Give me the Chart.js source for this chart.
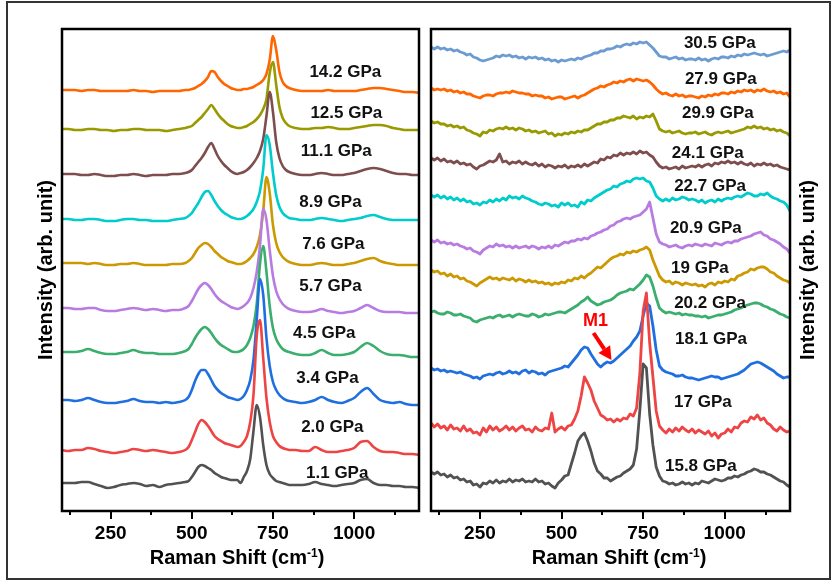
<!DOCTYPE html>
<html><head><meta charset="utf-8">
<script src="https://cdn.jsdelivr.net/npm/chart.js@4.4.0/dist/chart.umd.min.js"></script>
<style>
body{margin:0;background:#fff;width:833px;height:581px;overflow:hidden;position:relative}
#frame{position:absolute;left:6px;top:1px;width:825px;height:579px;border:2px solid #333;box-sizing:border-box}
#wl{position:absolute;left:0;top:0;width:425px;height:581px}
#wr{position:absolute;left:425px;top:0;width:408px;height:581px}
</style></head><body>
<div id="frame"></div>
<div id="wl"><canvas id="cl"></canvas></div>
<div id="wr"><canvas id="cr"></canvas></div>
<script>
// Raman shift grids (cm^-1)
const shiftLP = [100,120,140,160,180,200,220,240,260,280,300,320,340,360,380,400,420,440,460,480,490,500,510,520,530,540,550,560,570,580,590,600,610,620,630,640,650,660,670,680,690,700,710,720,730,740,750,760,770,780,790,800,820,840,860,880,900,920,940,960,980,1000,1020,1040,1060,1080,1100,1120,1140,1160,1180,1200];
const shiftHP = [100,110,120,130,140,150,160,170,180,190,200,210,220,230,240,250,260,270,280,290,300,310,320,330,340,350,360,370,380,390,400,410,420,430,440,450,460,470,480,490,500,510,520,530,540,550,560,570,580,590,600,610,620,630,640,650,660,670,680,690,700,710,720,730,740,750,760,770,780,790,800,810,820,830,840,850,860,870,880,890,900,910,920,930,940,950,960,970,980,990,1000,1010,1020,1030,1040,1050,1060,1070,1080,1090,1100,1110,1120,1130,1140,1150,1160,1170,1180,1190,1200];
const majorTicks = [250,500,750,1000];
const minorTicks = [125,375,625,875,1125];

// Left panel (low pressure), bottom to top; intensities relative to each trace's baseline
const leftLabels = ['1.1 GPa','2.0 GPa','3.4 GPa','4.5 GPa','5.7 GPa','7.6 GPa','8.9 GPa','11.1 GPa','12.5 GPa','14.2 GPa'];
const leftOffsets = [27,60,110,158,202,247,291,336,381,420];
const p1_1 = [0,0,0,1,1,-1,-3,-5,-4,-2,-1,0,-1,-3,-2,-4,-2,-1,0,1,
 2,6,11,16,18,17,15,13,10,8,6,5,4,3,3,3,0,6,12,24,52,78,66,38,18,9,5,2,1,0,-1,-2,
 -2,-2,-1,1,-1,-2,-3,-2,-1,0,3,4,0,-2,-2,-3,-3,-4,-4,-5];
const p2_0 = [0,-1,0,0,2,1,-1,-2,-3,-2,-1,1,0,-1,0,-1,-2,-3,-2,0,
 3,10,18,26,30,28,24,19,14,11,9,7,6,5,4,3,4,8,14,28,55,114,130,92,52,28,14,8,4,2,1,0,
 0,-1,-1,3,0,-2,-2,-1,0,2,8,9,3,-1,-2,-2,-3,-4,-4,-5];
const p3_4 = [0,0,-1,0,2,0,-2,-3,-3,-2,-1,1,-1,-2,-2,-3,-2,-3,-2,0,
 3,10,19,26,30,30,26,20,14,10,7,5,3,2,1,0,1,4,10,20,40,80,121,105,62,34,18,10,5,2,0,-1,
 -2,-3,-2,0,3,0,-2,-3,-1,2,8,12,6,0,-2,-3,-2,-4,-5,-5];
const p4_5 = [0,0,0,1,3,1,-1,-2,-2,-1,0,2,0,-1,-1,-2,-2,-2,-1,1,
 3,8,14,19,23,25,23,19,14,10,7,5,3,1,0,0,1,3,7,14,26,48,88,106,80,46,24,13,7,3,1,0,
 -2,-3,-3,-1,2,-1,-3,-3,-2,0,5,9,6,1,-2,-3,-3,-4,-5,-5];
const p5_7 = [0,0,-1,-1,0,0,-2,-3,-3,-2,-1,0,-1,-2,-1,-2,-3,-2,-2,0,
 2,7,13,19,23,25,23,19,14,10,7,5,3,1,0,-1,0,2,5,10,20,36,62,99,88,58,32,17,9,4,1,-1,
 -3,-4,-4,-3,-1,-3,-4,-5,-4,-3,0,3,0,-3,-4,-4,-4,-5,-5,-5];
const p7_6 = [0,0,0,0,-1,0,-1,-2,-2,-1,-1,0,-1,-2,-2,-2,-2,-1,-1,0,
 2,5,10,15,18,20,19,16,12,9,6,4,2,1,0,-1,-1,0,2,5,9,16,28,52,86,70,38,20,11,6,3,1,
 -1,-2,-2,-1,0,-1,-2,-2,-1,0,2,4,5,2,0,-1,-2,-2,-2,-2];
const p8_9 = [0,0,-1,-1,0,0,-1,-2,-2,-1,0,0,-1,-1,-2,-2,-2,-1,0,1,
 3,6,11,16,22,27,28,24,18,13,9,6,4,2,1,0,0,1,3,6,10,17,28,50,84,74,46,24,12,6,3,1,
 0,-1,-1,0,1,0,-1,-2,-1,0,1,3,4,2,0,-1,-1,-1,-1,-1];
const p11_1 = [0,0,0,-1,-1,0,-1,-2,-2,-1,-1,0,-1,-2,-1,-1,-1,0,0,1,
 2,4,8,12,16,21,27,31,25,18,13,9,6,3,1,0,1,2,4,7,11,16,23,35,58,82,62,32,16,8,4,2,
 0,-1,-1,0,1,0,-1,-1,0,1,3,5,6,5,3,1,0,0,-1,-1];
const p12_5 = [0,0,-1,-1,0,0,-1,-1,-2,-1,-1,0,0,-1,-1,-1,-2,-1,0,1,
 2,3,6,9,12,16,20,24,20,15,11,8,5,3,2,1,1,2,3,5,7,10,14,20,30,56,67,44,22,11,6,3,
 1,0,0,1,1,2,1,0,0,1,2,3,4,4,3,1,0,-1,-1,-1];
const p14_2 = [0,0,0,-1,0,0,-1,-1,-1,-1,-1,0,-1,-1,-2,-1,-1,-1,-1,0,
 0,1,2,4,6,9,13,19,18,13,9,6,4,2,1,0,0,1,1,2,3,5,7,10,16,30,54,40,18,8,4,2,
 0,-1,-1,-1,-1,0,-1,-1,-1,-1,0,1,2,2,1,0,-1,-2,-2,-3];
const leftSeries = [p1_1,p2_0,p3_4,p4_5,p5_7,p7_6,p8_9,p11_1,p12_5,p14_2];
const leftLabelPos = [[948,37],[933,83],[918,132],[908,177],[927,224],[936,266],[927,308],[945,359],[976,397],[973,437.5]];

// Right panel (high pressure), bottom to top
const rightLabels = ['15.8 GPa','17 GPa','18.1 GPa','20.2 GPa','19 GPa','20.9 GPa','22.7 GPa','24.1 GPa','29.9 GPa','27.9 GPa','30.5 GPa'];
const rightOffsets = [38,87,142,198,240,270,315,352,389,422,463];
const p15_8 = [0,-2,0,-3,-2,-5,-3,-6,-5,-8,
 -7,-10,-9,-13,-12,-15,-11,-12,-9,-11,
 -8,-11,-9,-10,-7,-10,-8,-9,-7,-10,
 -9,-10,-7,-10,-9,-12,-11,-14,-16,-11,
 -8,-4,-3,8,19,31,36,39,31,21,
 9,1,-2,-6,-6,-9,-7,-5,-4,-1,
 1,3,7,23,62,108,104,58,27,5,
 -4,-9,-10,-12,-11,-13,-12,-10,-12,-11,
 -13,-11,-12,-9,-10,-11,-9,-7,-8,-9,
 -8,-6,-6,-4,-5,-3,-2,0,1,3,
 2,0,0,-2,-3,-5,-7,-9,-10,-13,-15];
const p17 = [0,-4,-1,-5,-3,-7,-2,-6,-5,-8,
 -3,-8,-6,-10,-9,-12,-5,-9,-3,-7,
 -4,-8,-6,-3,-7,-4,-8,-5,-3,-7,
 -6,-9,-4,-7,-8,-5,-6,10,-9,-6,
 -4,-7,-3,-2,4,12,27,46,40,33,
 22,15,8,6,3,4,1,4,2,5,
 4,9,7,15,50,112,130,80,46,12,
 -3,-7,-10,-6,-9,-5,-8,-4,-7,-9,
 -6,-10,-7,-9,-11,-8,-13,-10,-15,-11,
 -10,-6,-9,-4,-5,0,2,1,6,4,
 8,3,5,0,-2,-6,-8,-4,-7,-9,-8];
const p18_1 = [0,-2,-1,-3,-2,-4,-3,-4,-5,-4,
 -6,-7,-8,-10,-9,-11,-8,-7,-6,-7,
 -5,-4,-6,-5,-3,-5,-4,-6,-3,-2,
 -5,-3,-4,-6,-5,-7,-4,-3,-2,-1,
 0,2,1,5,9,13,18,21,20,14,
 9,4,1,4,6,5,7,10,13,16,
 19,22,27,31,37,52,65,62,42,18,
 2,-2,-4,-5,-6,-8,-8,-7,-9,-10,
 -10,-11,-12,-11,-10,-9,-8,-9,-9,-11,
 -10,-9,-8,-7,-6,-4,-2,1,4,5,
 6,5,3,1,-1,-3,-6,-8,-10,-9,-9];
const p20_2 = [0,1,-1,-2,-2,0,-1,-3,-3,-2,
 -4,-5,-6,-9,-10,-8,-7,-6,-5,-6,
 -4,-3,-5,-4,-3,-5,-3,-2,-3,-4,
 -4,-2,-3,-5,-4,-2,-3,-2,-1,0,
 0,-1,1,3,5,7,10,12,15,11,
 9,7,8,10,11,12,14,17,19,20,
 21,23,22,25,28,32,37,35,26,14,
 4,1,-1,0,-1,-2,-1,-3,-2,-3,
 -3,-4,-4,-5,-4,-6,-5,-4,-3,-3,
 -2,-1,0,2,3,4,6,7,8,9,
 9,8,6,5,3,2,0,-2,-3,-5,-6];
const p19 = [0,-2,-1,-4,-3,-6,-4,-7,-6,-9,
 -8,-11,-12,-14,-16,-13,-11,-9,-7,-9,
 -8,-10,-8,-9,-10,-8,-11,-9,-10,-12,
 -10,-12,-11,-13,-12,-14,-13,-15,-13,-14,
 -12,-13,-10,-11,-8,-9,-6,-8,-5,-3,
 0,3,2,5,8,11,13,14,16,15,
 18,17,19,18,20,21,23,20,10,2,
 -6,-10,-12,-11,-14,-12,-13,-15,-13,-14,
 -15,-14,-16,-15,-17,-14,-13,-15,-12,-13,
 -11,-12,-9,-10,-6,-5,-3,-2,1,0,
 2,3,3,1,-2,-3,-6,-8,-10,-11,-13];
const p20_9 = [0,-2,0,-3,-2,-4,-3,-5,-4,-6,
 -7,-9,-8,-11,-12,-14,-10,-8,-6,-7,
 -4,-6,-5,-7,-6,-8,-6,-8,-7,-6,
 -8,-6,-7,-9,-7,-8,-6,-8,-5,-6,
 -4,-2,-3,-1,-1,1,0,2,1,4,
 5,7,8,10,11,14,15,18,19,21,
 22,21,23,24,25,28,31,38,22,6,
 -2,-4,-5,-7,-6,-5,-7,-8,-6,-5,
 -6,-4,-5,-6,-4,-5,-6,-3,-4,-5,
 -3,-2,-3,-1,-1,1,2,3,4,6,
 7,8,5,4,1,0,-2,-4,-7,-9,-13];
const p22_7 = [0,-2,0,-3,-1,-4,-2,-5,-3,-6,
 -4,-7,-6,-9,-8,-10,-7,-8,-5,-7,
 -4,-6,-3,-5,-1,-3,-2,-4,-1,-3,
 -4,-6,-7,-9,-10,-8,-9,-11,-10,-12,
 -8,-10,-8,-11,-10,-12,-7,-9,-5,-6,
 -3,-1,1,3,5,6,9,8,11,12,
 14,13,16,17,16,17,14,13,7,-1,
 -4,-6,-4,-6,-3,-5,-4,-2,-3,-5,
 -4,-5,-7,-5,-8,-6,-5,-7,-4,-6,
 -4,-3,-4,-2,-1,-2,0,2,1,-1,
 -1,1,0,2,-1,-3,-4,-6,-7,-10,-16];
const p24_1 = [0,-2,0,-3,-1,-4,-3,-5,-3,-6,
 -5,-7,-6,-9,-11,-8,-7,-5,-3,-4,
 -2,4,-4,-3,-6,-4,-5,-3,-6,-4,
 -6,-7,-5,-8,-6,-9,-7,-8,-10,-8,
 -9,-7,-10,-8,-9,-7,-9,-6,-8,-6,
 -4,-5,-1,-2,1,0,3,2,5,3,
 5,4,6,4,7,5,6,3,1,-4,
 -8,-10,-9,-11,-10,-9,-11,-8,-10,-9,
 -8,-9,-7,-9,-7,-6,-8,-5,-6,-4,
 -5,-3,-5,-4,-6,-4,-6,-7,-5,-8,
 -6,-7,-5,-7,-6,-8,-7,-9,-10,-11,-12];
const p29_9 = [0,-2,-1,-3,-3,-5,-4,-6,-5,-7,
 -6,-9,-10,-12,-13,-15,-11,-12,-9,-10,
 -8,-7,-8,-6,-8,-7,-9,-7,-8,-10,
 -9,-11,-10,-12,-11,-10,-13,-12,-15,-13,
 -14,-12,-13,-11,-12,-10,-11,-9,-9,-7,
 -5,-3,-3,-1,-1,1,1,3,3,5,
 4,3,5,2,4,3,5,4,7,0,
 -8,-10,-11,-10,-12,-11,-10,-12,-13,-12,
 -12,-11,-13,-12,-11,-13,-14,-12,-11,-12,
 -11,-10,-12,-11,-10,-9,-8,-6,-7,-5,
 -7,-6,-8,-7,-9,-8,-10,-9,-11,-12,-15];
const p27_9 = [0,-2,-1,-2,-1,-3,-2,-4,-3,-5,
 -4,-6,-6,-8,-9,-10,-8,-7,-7,-8,
 -6,-5,-5,-4,-5,-3,-4,-5,-5,-6,
 -6,-8,-7,-8,-8,-10,-9,-11,-10,-9,
 -9,-11,-10,-9,-8,-10,-8,-7,-5,-3,
 -1,0,2,1,3,4,6,5,7,6,
 8,9,7,9,8,7,8,6,3,-1,
 -4,-6,-5,-7,-8,-6,-8,-7,-9,-8,
 -8,-9,-10,-8,-9,-7,-8,-6,-7,-5,
 -5,-6,-4,-5,-3,-4,-2,-3,-2,-4,
 -2,-3,-1,-3,-4,-3,-5,-4,-6,-5,-9];
const p30_5 = [0,-2,0,-2,-1,-3,-2,-4,-3,-5,
 -6,-8,-7,-10,-11,-13,-14,-13,-12,-11,
 -9,-10,-8,-9,-8,-10,-9,-11,-10,-12,
 -10,-11,-10,-12,-11,-13,-12,-14,-13,-15,
 -13,-14,-13,-12,-13,-11,-12,-10,-9,-8,
 -6,-6,-4,-4,-2,-2,-1,1,0,2,
 3,2,4,3,5,4,5,2,-1,-5,
 -9,-10,-10,-12,-11,-10,-12,-11,-13,-12,
 -12,-13,-11,-13,-12,-14,-12,-11,-12,-10,
 -10,-11,-9,-10,-8,-9,-7,-8,-7,-6,
 -7,-8,-7,-9,-8,-7,-6,-5,-4,-5,-3];
const rightSeries = [p15_8,p17,p18_1,p20_2,p19,p20_9,p22_7,p24_1,p29_9,p27_9,p30_5];
const rightLabelPos = [[927,44],[933,108],[958,171],[955,207],[924,242],[942,282],[955,324],[948,357],[979,397],[988,431],[985,467]];

const leftColors = ['#525252','#EE4444','#1F6FE0','#3AAE6C','#B87BE2','#CC9900','#00CCCC','#7E4D4D','#999900','#FF6600'];
const rightColors = ['#525252','#EE4444','#1F6FE0','#3AAE6C','#CC9900','#B87BE2','#00CCCC','#7E4D4D','#999900','#FF6600','#6B9BD1'];

const FONT = '"Liberation Sans", Arial, sans-serif';
Chart.defaults.font.family = FONT;

const decor = {
  id: 'decor',
  afterDatasetsDraw(chart, args, o) {
    const {ctx, chartArea: a, scales: {x, y}} = chart;
    ctx.save();
    ctx.fillStyle = '#111';
    ctx.font = 'bold 17px ' + FONT;
    ctx.textAlign = 'center'; ctx.textBaseline = 'middle';
    o.labels.forEach((t, i) => ctx.fillText(t, x.getPixelForValue(o.pos[i][0]), y.getPixelForValue(o.pos[i][1])));
    if (o.note) {
      const n = o.note;
      ctx.fillStyle = '#FF0000'; ctx.strokeStyle = '#FF0000';
      ctx.font = 'bold 18px ' + FONT;
      ctx.fillText(n.text, x.getPixelForValue(n.tx), y.getPixelForValue(n.ty));
      const x0 = x.getPixelForValue(n.ax0), y0 = y.getPixelForValue(n.ay0);
      const x1 = x.getPixelForValue(n.ax1), y1 = y.getPixelForValue(n.ay1);
      const ang = Math.atan2(y1 - y0, x1 - x0), hl = 13, hw = 7;
      const bx = x1 - hl * Math.cos(ang), by = y1 - hl * Math.sin(ang);
      ctx.lineWidth = 4; ctx.beginPath(); ctx.moveTo(x0, y0); ctx.lineTo(bx, by); ctx.stroke();
      ctx.beginPath(); ctx.moveTo(x1, y1);
      ctx.lineTo(bx + hw * Math.sin(ang), by - hw * Math.cos(ang));
      ctx.lineTo(bx - hw * Math.sin(ang), by + hw * Math.cos(ang));
      ctx.closePath(); ctx.fill();
    }
    ctx.strokeStyle = '#000'; ctx.lineWidth = 2.5;
    ctx.strokeRect(a.left, a.top, a.right - a.left, a.bottom - a.top);
    ctx.lineWidth = 2;
    ctx.beginPath();
    majorTicks.forEach(v => { const p = Math.round(x.getPixelForValue(v)); ctx.moveTo(p, a.bottom); ctx.lineTo(p, a.bottom + 8); });
    minorTicks.forEach(v => { const p = Math.round(x.getPixelForValue(v)); ctx.moveTo(p, a.bottom); ctx.lineTo(p, a.bottom + 4); });
    ctx.stroke();
    ctx.fillStyle = '#000'; ctx.textAlign = 'left'; ctx.textBaseline = 'alphabetic';
    const big = 'bold 20px ' + FONT, small = 'bold 12px ' + FONT;
    ctx.font = big;
    const w1 = ctx.measureText('Raman Shift').width, gap = 5;
    const w2 = ctx.measureText('(cm').width, w4 = ctx.measureText(')').width;
    ctx.font = small; const w3 = ctx.measureText('-1').width;
    let sx = o.xTitleX - (w1 + gap + w2 + w3 + w4) / 2; const by0 = 564;
    ctx.font = big; ctx.fillText('Raman Shift', sx, by0); sx += w1 + gap;
    ctx.fillText('(cm', sx, by0); sx += w2;
    ctx.font = small; ctx.fillText('-1', sx, by0 - 7); sx += w3;
    ctx.font = big; ctx.fillText(')', sx, by0);
    ctx.translate(o.yTitleX, (a.top + a.bottom) / 2);
    ctx.rotate(-Math.PI / 2);
    ctx.textAlign = 'center'; ctx.textBaseline = 'middle';
    ctx.fillText('Intensity (arb. unit)', 0, 0);
    ctx.restore();
  }
};

function makeChart(id, grid, series, offsets, colors, labels, pos, pad, lw, smooth, extra) {
  const datasets = series.map((s, i) => ({
    label: labels[i],
    data: s.map((v, j) => ({x: grid[j], y: v + offsets[i]})),
    borderColor: colors[i], borderWidth: lw, pointRadius: 0,
    cubicInterpolationMode: smooth ? 'monotone' : 'default', tension: 0,
    borderJoinStyle: 'round', fill: false
  }));
  return new Chart(document.getElementById(id), {
    type: 'line',
    data: {datasets},
    options: {
      responsive: true, maintainAspectRatio: false, animation: false, events: [],
      layout: {padding: pad},
      plugins: {legend: {display: false}, tooltip: {enabled: false}, decor: Object.assign({labels, pos}, extra)},
      scales: {
        x: {
          type: 'linear', min: 100, max: 1200,
          afterBuildTicks: s => { s.ticks = [...minorTicks, ...majorTicks].sort((a, b) => a - b).map(v => ({value: v})); },
          afterFit: s => { s.height = 70; },
          grid: {display: false, drawTicks: false}, border: {display: false},
          ticks: {autoSkip: false, maxRotation: 0, padding: 11, color: '#000',
                  font: {size: 19, weight: 'bold'},
                  callback: v => majorTicks.includes(v) ? String(v) : ''}
        },
        y: {display: false, min: -1, max: 481}
      }
    },
    plugins: [decor]
  });
}

makeChart('cl', shiftLP, leftSeries, leftOffsets, leftColors, leftLabels, leftLabelPos,
  {left: 62, top: 29, right: 6, bottom: 0}, 2.6, true, {xTitleX: 237, yTitleX: 46});
makeChart('cr', shiftHP, rightSeries, rightOffsets, rightColors, rightLabels, rightLabelPos,
  {left: 6, top: 29, right: 43, bottom: 0}, 2.8, false,
  {xTitleX: 194, yTitleX: 383, note: {text: 'M1', tx: 604, ty: 189, ax0: 598, ay0: 177, ax1: 653, ay1: 150}});
</script>
</body></html>
